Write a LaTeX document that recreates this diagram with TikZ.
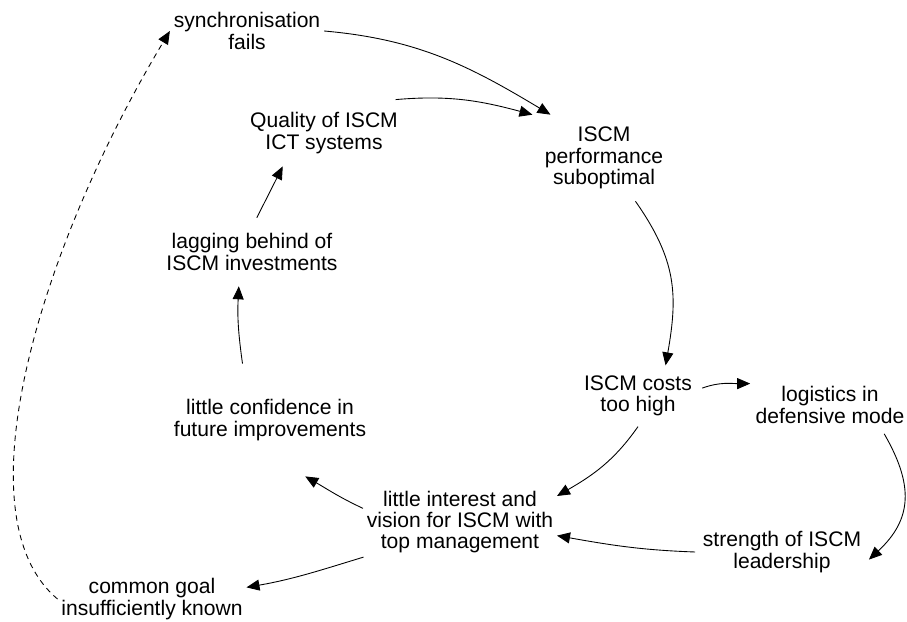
\documentclass[tikz,border=0pt]{standalone}
\usepackage{fontspec}
\setmainfont{Liberation Sans}
\usetikzlibrary{arrows.meta}

\begin{document}
\begin{tikzpicture}[
  x=0.02cm, y=0.02cm,
  factor/.style={align=center, inner sep=2pt, font=\fontsize{12}{12.2}\selectfont},
  arrow/.style={-{Triangle[length=2.6mm, width=2.2mm]}, line width=0.5pt},
  dasharrow/.style={arrow, dash pattern=on 1.1mm off 0.9mm}
]
\useasboundingbox (0,0) rectangle (907,622);

% Factors
\node[factor] (sync) at (247,591) {synchronisation\\fails};
\node[factor, inner ysep=0.25cm] (quality) at (324,489) {Quality of ISCM\\ICT systems};
\node[factor, inner sep=0.24cm] (perf) at (604,464) {ISCM\\performance\\suboptimal};
\node[factor, inner ysep=0.31cm] (lagging) at (252,370) {lagging behind of\\ISCM investments};
\node[factor, inner ysep=0.71cm] (confid) at (270,202) {little confidence in\\future improvements};
\node[factor, inner sep=0.2cm] (costs) at (638,226) {ISCM costs\\too high};
\node[factor, inner xsep=0.1cm, inner ysep=0.2cm] (logist) at (830,217) {logistics in\\defensive mode};
\node[factor] (interest) at (460,100) {little interest and\\vision for ISCM with\\top management};
\node[factor, inner xsep=0.15cm] (strength) at (782,70) {strength of ISCM\\leadership};
\node[factor] (common) at (152,23) {common goal\\insufficiently known};

% Causal links
\draw[arrow] (sync.east) to[out=-5, in=149] (perf.141);
\draw[arrow] (quality.25) to[out=5, in=165] (perf.north west);
\draw[arrow] (perf.-54) to[out=-55, in=80, looseness=1.1] (costs.48);
\draw[arrow] (costs.7) to[out=20, in=180] (logist.165);
\draw[arrow] (logist.-28) to[out=-60, in=43, looseness=1.2] (strength.-5);
\draw[arrow] (strength.west) to[out=178, in=-10] (interest.-8);
\draw[arrow] (costs.south) to[out=-125, in=30] (interest.15);
\draw[arrow] (interest.172) to[out=155, in=-30] (confid.-58);
\draw[arrow] (confid.116) to[out=98, in=-93] (lagging.-111);
\draw[arrow] (lagging.82) -- (quality.-141);
\draw[arrow] (interest.-160) to[out=-163, in=10] (common.7);

% Delayed link
\draw[dasharrow] (common.west) .. controls +(140:130) and +(-121:250) .. (sync.west);

\end{tikzpicture}
\end{document}
